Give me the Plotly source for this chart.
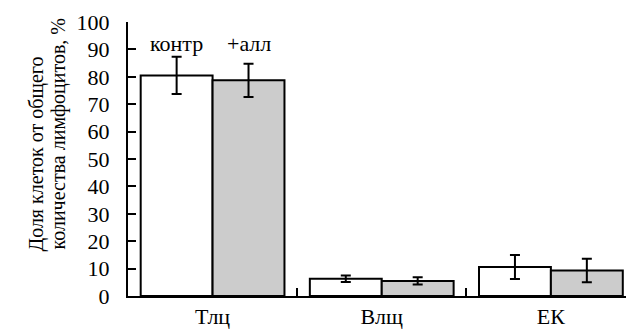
import plotly.graph_objects as go

categories = ["Тлц", "Влщ", "ЕК"]
control = [80.5, 6.3, 10.6]
control_err = [6.8, 1.2, 4.4]
allo = [78.7, 5.5, 9.3]
allo_err = [6.1, 1.3, 4.3]
y_ticks = [0, 10, 20, 30, 40, 50, 60, 70, 80, 90, 100]
series_labels = ["контр", "+алл"]

FONT = "Liberation Serif"

fig = go.Figure()
fig.add_trace(go.Bar(
    x=categories, y=control, name=series_labels[0],
    marker=dict(color="white", line=dict(color="black", width=2)),
    error_y=dict(type="data", array=control_err, visible=True,
                 color="black", thickness=2, width=5),
))
fig.add_trace(go.Bar(
    x=categories, y=allo, name=series_labels[1],
    marker=dict(color="#cccccc", line=dict(color="black", width=2)),
    error_y=dict(type="data", array=allo_err, visible=True,
                 color="black", thickness=2, width=5),
))

bargap = 0.15
bw = (1 - bargap) / 2
for i, lab in enumerate(series_labels):
    fig.add_annotation(x=-bw / 2 + i * bw, y=92, xref="x", yref="y",
                       text=lab, showarrow=False,
                       font=dict(family=FONT, size=22, color="black"))

W, H = 626, 331
l, r, t, b = 128, 0, 22, 35
pw, ph = W - l - r, H - t - b
title_lines = [("Доля клеток от общего", 22, 154), ("количества лимфоцитов, %", 44, 134)]
for txt, px, py in title_lines:
    fig.add_annotation(x=(px - l) / pw, y=(H - b - py) / ph, xref="paper", yref="paper",
                       text=txt, textangle=-90, showarrow=False,
                       font=dict(family=FONT, size=20, color="black"))

fig.update_layout(
    template="none",
    width=W, height=H,
    margin=dict(l=l, r=r, t=t, b=b),
    barmode="group", bargap=bargap, bargroupgap=0,
    plot_bgcolor="white", paper_bgcolor="white",
    showlegend=False,
    font=dict(family=FONT, size=22, color="black"),
)
fig.update_xaxes(
    type="category", range=[-0.5, 2.444],
    showline=True, linecolor="black", linewidth=2,
    ticks="inside", tickson="boundaries", ticklen=8, tickwidth=2, tickcolor="black",
    showgrid=False, zeroline=False,
    tickfont=dict(family=FONT, size=22, color="black"),
)
fig.update_yaxes(
    range=[0, 100], tickvals=y_ticks,
    showline=True, linecolor="black", linewidth=2,
    ticks="inside", ticklen=8, tickwidth=2, tickcolor="black",
    showgrid=False, zeroline=False,
    tickfont=dict(family=FONT, size=22, color="black"),
    ticklabelstandoff=12,
)

fig.write_html("out.html")
